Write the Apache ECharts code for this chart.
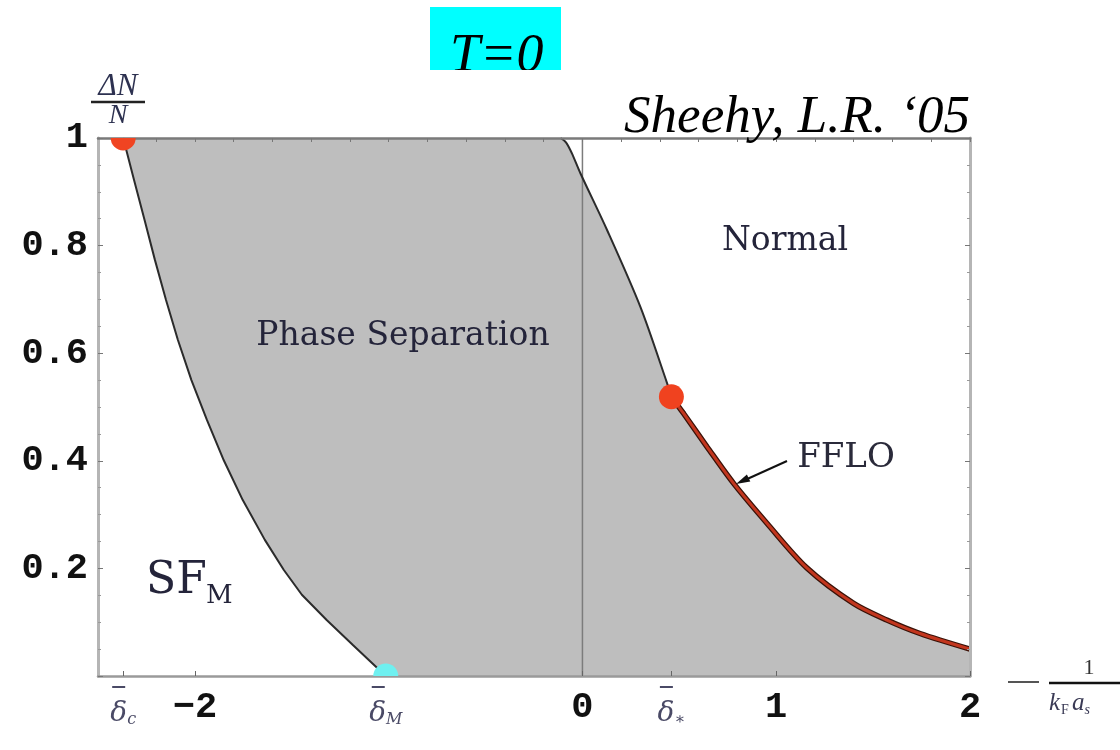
<!DOCTYPE html>
<html><head><meta charset="utf-8">
<script src="https://cdn.jsdelivr.net/npm/echarts@6/dist/echarts.min.js"></script>
<style>html,body{margin:0;padding:0;background:#fff}#c{width:1120px;height:750px}</style>
</head><body><div id="c"></div>
<script>
// ---- data ----
const leftBoundaryX = [-2.37, -2.314, -2.26, -2.206, -2.149, -2.088, -2.018, -1.938, -1.851, -1.753, -1.639, -1.541, -1.448, -1.32, -1.186, -1.015];
const leftBoundaryY = [1.0, 0.922, 0.848, 0.773, 0.699, 0.625, 0.55, 0.476, 0.401, 0.327, 0.253, 0.197, 0.151, 0.104, 0.058, 0.0];
const normalBoundaryX = [-0.113, -0.085, -0.055, -0.01, 0.127, 0.299, 0.437, 0.459];
const normalBoundaryY = [1.0, 0.992, 0.972, 0.934, 0.829, 0.686, 0.544, 0.519];
const ffloX = [0.459, 0.522, 0.643, 0.78, 0.952, 1.158, 1.399, 1.571, 1.742, 2.0];
const ffloY = [0.519, 0.488, 0.426, 0.358, 0.284, 0.201, 0.135, 0.104, 0.079, 0.05];
const edgeDotsX = [-2.37, -1.015];
const edgeDotsY = [1.0, 0.0];
const edgeDotColors = ['#f04422', '#6ff0f0'];
const edgeDotUp = [false, true];
const tricriticalX = [0.459];
const tricriticalY = [0.519];
const zeroLineX = [0, 0];
const zeroLineY = [0, 1];

const xTickValues = [-2.37, -2, -1.015, 0, 0.459, 1, 2];
const xTickLabels = [
  '{bar| }{pc|}\n{d|δ}{s|c}', '{n|−2}',
  '{bar| }{pm|}\n{d|δ}{s|M}', '{n|0}',
  '{bar| }{ps|}\n{d|δ}{s|∗}', '{n|1}', '{n|2}'
];
const topTickValues = [-2.4, -2.2, -2.0, -1.8, -1.6, -1.4, -1.2, -1.0, -0.8, -0.6, -0.4, -0.2, 0, 0.2, 0.4, 0.6, 0.8, 1.0, 1.2, 1.4, 1.6, 1.8, 2.0];
const yTickLabels = ['', '0.2', '0.4', '0.6', '0.8', '1'];

// ---- derived ----
const zip = (xs, ys) => xs.map((x, i) => [x, ys[i]]);
const leftPts = zip(leftBoundaryX, leftBoundaryY);
const normalPts = zip(normalBoundaryX, normalBoundaryY);
const ffloPts = zip(ffloX, ffloY);
const polyPts = leftPts.concat([[2, 0]], ffloPts.slice().reverse(), normalPts.slice(0, -1).reverse());

const deltaColor = '#4a4a66';
const frameColor = '#9a9a9a';
const chart = echarts.init(document.getElementById('c'));
const option = {
  animation: false,
  backgroundColor: '#ffffff',
  grid: { left: 98, right: 150, top: 138, bottom: 74, containLabel: false },
  xAxis: [{
    type: 'value', position: 'bottom', min: -2.5, max: 2, z: 5,
    axisLine: { show: true, onZero: false, lineStyle: { color: frameColor, width: 2.5 } },
    axisTick: { show: true, inside: true, length: 5, customValues: xTickValues, lineStyle: { color: '#666', width: 1 } },
    splitLine: { show: false },
    axisLabel: {
      customValues: xTickValues, margin: 4,
      formatter: function (v) {
        let best = 0;
        xTickValues.forEach((t, i) => { if (Math.abs(t - v) < Math.abs(xTickValues[best] - v)) best = i; });
        return xTickLabels[best];
      },
      rich: {
        n: { fontFamily: 'Liberation Mono', fontWeight: 'bold', fontSize: 37, color: '#111', lineHeight: 56 },
        bar: { width: 13, height: 2, lineHeight: 14, backgroundColor: deltaColor, fontSize: 2 },
        pc: { width: 9, lineHeight: 14, fontSize: 2 },
        pm: { width: 15, lineHeight: 14, fontSize: 2 },
        ps: { width: 10, lineHeight: 14, fontSize: 2 },
        d: { fontFamily: 'DejaVu Serif', fontStyle: 'italic', fontSize: 28, color: deltaColor, lineHeight: 34, verticalAlign: 'bottom' },
        s: { fontFamily: 'DejaVu Serif', fontStyle: 'italic', fontSize: 16, color: deltaColor, lineHeight: 34, verticalAlign: 'bottom' }
      }
    }
  }, {
    type: 'value', position: 'top', min: -2.5, max: 2, z: 5,
    axisLine: { show: true, onZero: false, lineStyle: { color: '#7a7a7a', width: 2.5 } },
    axisTick: { show: true, inside: true, length: 4, customValues: topTickValues, lineStyle: { color: '#777', width: 1 } },
    axisLabel: { show: false }, splitLine: { show: false }
  }],
  yAxis: [{
    type: 'value', position: 'left', min: 0, max: 1, interval: 0.2, z: 5,
    axisLine: { show: true, onZero: false, lineStyle: { color: '#b5b5b5', width: 3 } },
    axisTick: { show: true, inside: true, length: 5, lineStyle: { color: '#777' } },
    minorTick: { show: true, splitNumber: 4, length: 3, lineStyle: { color: '#999' } },
    splitLine: { show: false },
    axisLabel: {
      margin: 10,
      fontFamily: 'Liberation Mono', fontWeight: 'bold', fontSize: 37, color: '#111',
      formatter: function (v) { return yTickLabels[Math.round(v / 0.2)] || ''; }
    }
  }, {
    type: 'value', position: 'right', min: 0, max: 1, interval: 0.2, z: 5,
    axisLine: { show: true, onZero: false, lineStyle: { color: '#b5b5b5', width: 3 } },
    axisTick: { show: true, inside: true, length: 5, lineStyle: { color: '#777' } },
    minorTick: { show: true, splitNumber: 4, length: 3, lineStyle: { color: '#999' } },
    axisLabel: { show: false }, splitLine: { show: false }
  }],
  series: [
    {
      type: 'custom', name: 'Phase Separation region', data: polyPts, silent: true, z: 1,
      renderItem: function (params, api) {
        if (params.dataIndex !== 0) return null;
        const pts = polyPts.map(p => api.coord(p));
        return { type: 'polygon', shape: { points: pts }, style: { fill: '#bebebe', stroke: null } };
      }
    },
    {
      type: 'line', name: 'zero', data: zip(zeroLineX, zeroLineY), symbol: 'none', z: 2, silent: true,
      lineStyle: { color: '#7c7c7c', width: 1.5 }
    },
    {
      type: 'line', name: 'SF boundary', data: leftPts, symbol: 'none', z: 3, silent: true,
      lineStyle: { color: '#2b2b2b', width: 2 }
    },
    {
      type: 'line', name: 'Normal boundary', data: normalPts, symbol: 'none', z: 3, silent: true, smooth: 0.3,
      lineStyle: { color: '#2b2b2b', width: 2 }
    },
    {
      type: 'line', name: 'FFLO edge', data: ffloPts, symbol: 'none', z: 3, silent: true, smooth: 0.3,
      lineStyle: { color: '#3a1208', width: 5.5 }
    },
    {
      type: 'line', name: 'FFLO', data: ffloPts, symbol: 'none', z: 4, silent: true, smooth: 0.3,
      lineStyle: { color: '#c2361e', width: 3 }
    },
    {
      type: 'scatter', name: 'tricritical', data: zip(tricriticalX, tricriticalY), symbolSize: 25, z: 6, silent: true,
      itemStyle: { color: '#f0421f', opacity: 1 }
    },
    {
      type: 'custom', name: 'edge dots', data: zip(edgeDotsX, edgeDotsY), z: 6, silent: true,
      renderItem: function (params, api) {
        const c = api.coord([api.value(0), api.value(1)]);
        const up = edgeDotUp[params.dataIndex];
        return {
          type: 'sector',
          shape: { cx: c[0], cy: c[1], r: 12.5, r0: 0, startAngle: up ? Math.PI : 0, endAngle: up ? 2 * Math.PI : Math.PI, clockwise: true },
          style: { fill: edgeDotColors[params.dataIndex] }
        };
      }
    }
  ],
  graphic: [
    { type: 'rect', shape: { x: 430, y: 7, width: 131, height: 63 }, style: { fill: '#00ffff' }, z: 10 },
    { type: 'text', x: 450, y: 57, style: { text: 'T=0', font: 'italic 54px "Liberation Serif"', fill: '#000', textAlign: 'left', textVerticalAlign: 'middle' }, z: 11 },
    { type: 'rect', shape: { x: 425, y: 70, width: 142, height: 30 }, style: { fill: '#ffffff' }, z: 12 },
    { type: 'text', x: 970, y: 118, style: { text: 'Sheehy, L.R. \u201805', font: 'italic 53px "Liberation Serif"', fill: '#000', textAlign: 'right', textVerticalAlign: 'middle' }, z: 11 },
    // y axis name  ΔN / N
    { type: 'text', x: 118, y: 87, style: { text: 'ΔN', font: 'italic 31px "Liberation Serif"', fill: '#2d3150', textAlign: 'center', textVerticalAlign: 'middle' }, z: 11 },
    { type: 'line', shape: { x1: 91, y1: 102, x2: 145, y2: 102 }, style: { stroke: '#222', lineWidth: 2.5 }, z: 11 },
    { type: 'text', x: 118, y: 116, style: { text: 'N', font: 'italic 28px "Liberation Serif"', fill: '#2d3150', textAlign: 'center', textVerticalAlign: 'middle' }, z: 11 },
    // x axis name  − 1/(kF as)
    { type: 'line', shape: { x1: 1008, y1: 682, x2: 1039, y2: 682 }, style: { stroke: '#555', lineWidth: 2 }, z: 11 },
    { type: 'line', shape: { x1: 1049, y1: 683, x2: 1125, y2: 683 }, style: { stroke: '#111', lineWidth: 2.5 }, z: 11 },
    { type: 'text', x: 1089, y: 668, style: { text: '1', font: '22px "Liberation Serif"', fill: '#333', textAlign: 'center', textVerticalAlign: 'middle' }, z: 11 },
    { type: 'text', x: 1049, y: 703, style: {
        text: '{k|k}{f|F}{a|a}{s|s}', textAlign: 'left', textVerticalAlign: 'middle',
        rich: {
          k: { font: 'italic 25px "Liberation Serif"', fill: '#3a3a55', lineHeight: 28 },
          f: { font: '14px "Liberation Serif"', fill: '#3a3a55', lineHeight: 28, verticalAlign: 'bottom', padding: [0, 3, 0, 1] },
          a: { font: 'italic 25px "Liberation Serif"', fill: '#3a3a55', lineHeight: 28 },
          s: { font: 'italic 14px "Liberation Serif"', fill: '#3a3a55', lineHeight: 28, verticalAlign: 'bottom' }
        } }, z: 11 },
    // region labels
    { type: 'text', x: 785, y: 241, style: { text: 'Normal', font: '33px "DejaVu Serif"', fill: '#24243a', textAlign: 'center', textVerticalAlign: 'middle' }, z: 11 },
    { type: 'text', x: 403, y: 336, style: { text: 'Phase Separation', font: '33px "DejaVu Serif"', fill: '#24243a', textAlign: 'center', textVerticalAlign: 'middle' }, z: 11 },
    { type: 'text', x: 846, y: 458, style: { text: 'FFLO', font: '34px "DejaVu Serif"', fill: '#2a2a3a', textAlign: 'center', textVerticalAlign: 'middle' }, z: 11 },
    { type: 'text', x: 146, y: 582, style: { text: 'SF', font: '44px "DejaVu Serif"', fill: '#24243a', textAlign: 'left', textVerticalAlign: 'middle' }, z: 11 },
    { type: 'text', x: 206, y: 596, style: { text: 'M', font: '26px "DejaVu Serif"', fill: '#24243a', textAlign: 'left', textVerticalAlign: 'middle' }, z: 11 },
    // FFLO arrow
    { type: 'line', shape: { x1: 787, y1: 461, x2: 745, y2: 480 }, style: { stroke: '#111', lineWidth: 2 }, z: 11 },
    { type: 'polygon', shape: { points: [[736, 484], [750.3, 481.6], [746.9, 474.4]] }, style: { fill: '#111' }, z: 11 }
  ]
};
chart.setOption(option);
</script>
</body></html>
